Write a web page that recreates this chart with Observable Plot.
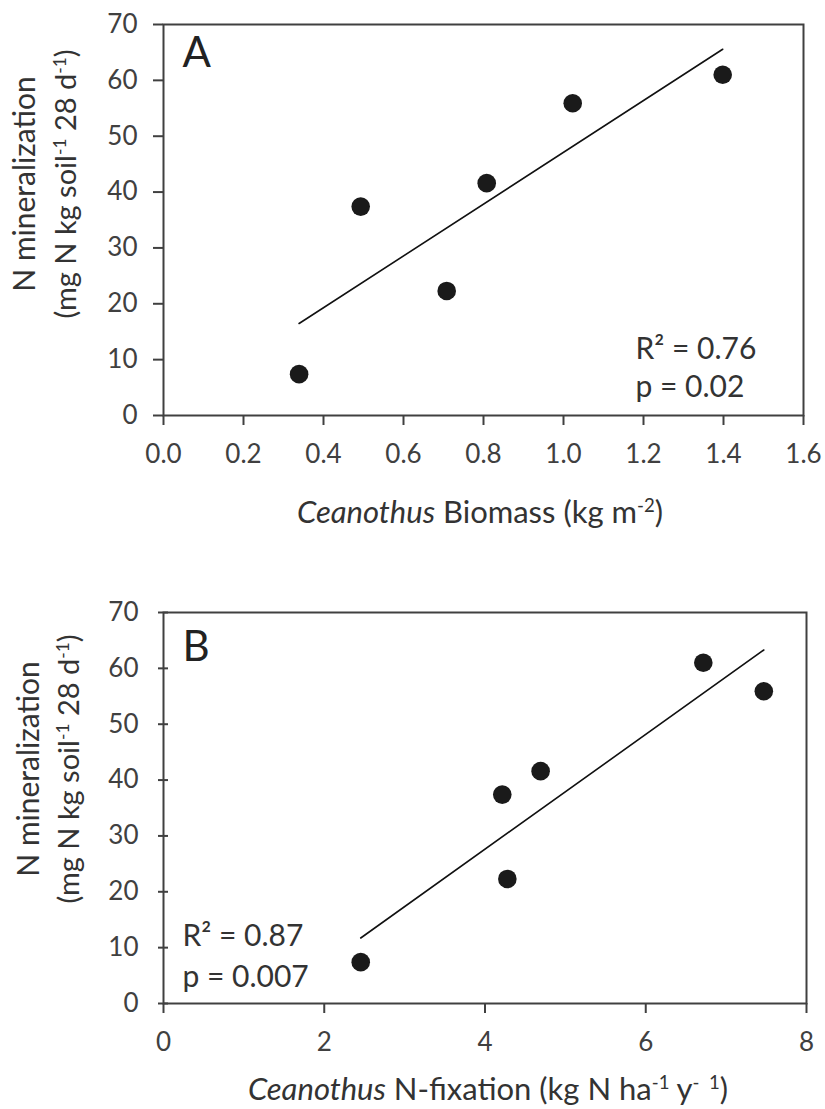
<!DOCTYPE html>
<html><head><meta charset="utf-8">
<script src="https://cdn.jsdelivr.net/npm/d3@7"></script>
<script src="https://cdn.jsdelivr.net/npm/@observablehq/plot@0.6"></script>
<style>
body{margin:0;background:#fff;}
#chart{width:825px;}
#chart svg{display:block;}
</style>
</head><body><div id="chart"></div>
<script>
// Data (six sites)
const mineralization = [7.4, 37.4, 22.3, 41.6, 55.9, 61.0];   // mg N kg soil-1 28 d-1
const biomass        = [0.339, 0.493, 0.708, 0.808, 1.023, 1.398]; // kg m-2
const fixation       = [2.454, 4.215, 4.278, 4.692, 7.469, 6.716]; // kg N ha-1 y-1
const yTicks  = [0, 10, 20, 30, 40, 50, 60, 70];
const xTicksA = [0, 0.2, 0.4, 0.6, 0.8, 1.0, 1.2, 1.4, 1.6];
const xTicksB = [0, 2, 4, 6, 8];
const statsA = ["R² = 0.76", "p = 0.02"];
const statsB = ["R² = 0.87", "p = 0.007"];

const dataA = biomass.map((x, i) => ({x, y: mineralization[i]}));
const dataB = fixation.map((x, i) => ({x, y: mineralization[i]}));

const INK = "#404040";
const FONT = "Lato, 'Open Sans', sans-serif";

function panel({data, xDomain, xTicks, xFormat, letter, stats, statsDx, statsDy, statsLH,
                height, mt, mb, ml, mr, yDx, yPad, letterDy}) {
  return Plot.plot({
    width: 825, height,
    marginTop: mt, marginBottom: mb, marginLeft: ml, marginRight: mr,
    style: {fontFamily: FONT, background: "#fff", color: INK, overflow: "visible"},
    x: {domain: xDomain},
    y: {domain: [0, 70]},
    marks: [
      Plot.axisX({ticks: xTicks, tickFormat: xFormat, tickSize: 10, tickPadding: 19,
                  fontSize: 26, label: null, stroke: INK, strokeWidth: 2, fill: INK}),
      Plot.axisY({ticks: yTicks, tickSize: 10, tickPadding: yPad, dx: yDx,
                  fontSize: 26, label: null, stroke: INK, strokeWidth: 2, fill: INK}),
      Plot.frame({stroke: INK, strokeWidth: 2}),
      Plot.linearRegressionY(data, {x: "x", y: "y", ci: 0, stroke: "#111", strokeWidth: 1.6}),
      Plot.dot(data, {x: "x", y: "y", r: 9.3, fill: "#1a1a1a", stroke: null}),
      Plot.text([letter], {frameAnchor: "top-left", dx: 19, dy: letterDy, lineAnchor: "top",
                           fontSize: 42, fill: "#222", textAnchor: "start"}),
      Plot.text([stats.join("\n")], {frameAnchor: "top-left", dx: statsDx, dy: statsDy,
                           lineAnchor: "top", lineHeight: statsLH, fontSize: 30, fill: "#333",
                           textAnchor: "start"})
    ]
  });
}

function addText(svg, parts, {x, y, rotate = false, size}) {
  const t = d3.select(svg).append("text")
    .attr("font-family", FONT).attr("font-size", size).attr("fill", "#333")
    .attr("text-anchor", "middle")
    .attr("transform", rotate ? `translate(${x},${y}) rotate(-90)` : `translate(${x},${y})`);
  let shifted = false;
  for (const [s, kind] of parts) {
    const sp = t.append("tspan").text(s);
    if (kind === "i") sp.attr("font-style", "italic");
    if (kind === "sup") {
      sp.attr("font-size", size * 0.6).attr("dy", -size * 0.34);
      shifted = true;
    } else if (shifted) {
      sp.attr("dy", size * 0.34);
      shifted = false;
    }
  }
}

const yLine1 = [["N mineralization"]];
const yLine2 = [["(mg N kg soil"], ["-1", "sup"], [" 28 d"], ["-1", "sup"], [")"]];
const xLabelA = [["Ceanothus", "i"], [" Biomass (kg m"], ["-2", "sup"], [")"]];
const xLabelB = [["Ceanothus", "i"], [" N-fixation (kg N ha"], ["-1", "sup"], [" y"], ["-  1", "sup"], [")"]];

const A = panel({data: dataA, xDomain: [0, 1.6], xTicks: xTicksA, xFormat: d3.format(".1f"),
  letter: "A", stats: statsA, statsDx: 472, statsDy: 307, statsLH: 1.27,
  height: 550, mt: 24, mb: 135, ml: 163, mr: 22, yDx: 0, yPad: 16, letterDy: 13});
const B = panel({data: dataB, xDomain: [0, 8], xTicks: xTicksB, xFormat: d3.format("d"),
  letter: "B", stats: statsB, statsDx: 19, statsDy: 305, statsLH: 1.35,
  height: 559, mt: 62, mb: 106, ml: 163, mr: 19, yDx: 5, yPad: 20, letterDy: 19});

const root = document.getElementById("chart");
root.append(A, B);

addText(A, yLine1, {x: 35, y: 184, rotate: true, size: 30});
addText(A, yLine2, {x: 76, y: 184, rotate: true, size: 29});
addText(A, xLabelA, {x: 480, y: 523, size: 31});
addText(B, yLine1, {x: 39, y: 219, rotate: true, size: 30});
addText(B, yLine2, {x: 79, y: 219, rotate: true, size: 29});
addText(B, xLabelB, {x: 488, y: 550, size: 31});
</script>
</body></html>
